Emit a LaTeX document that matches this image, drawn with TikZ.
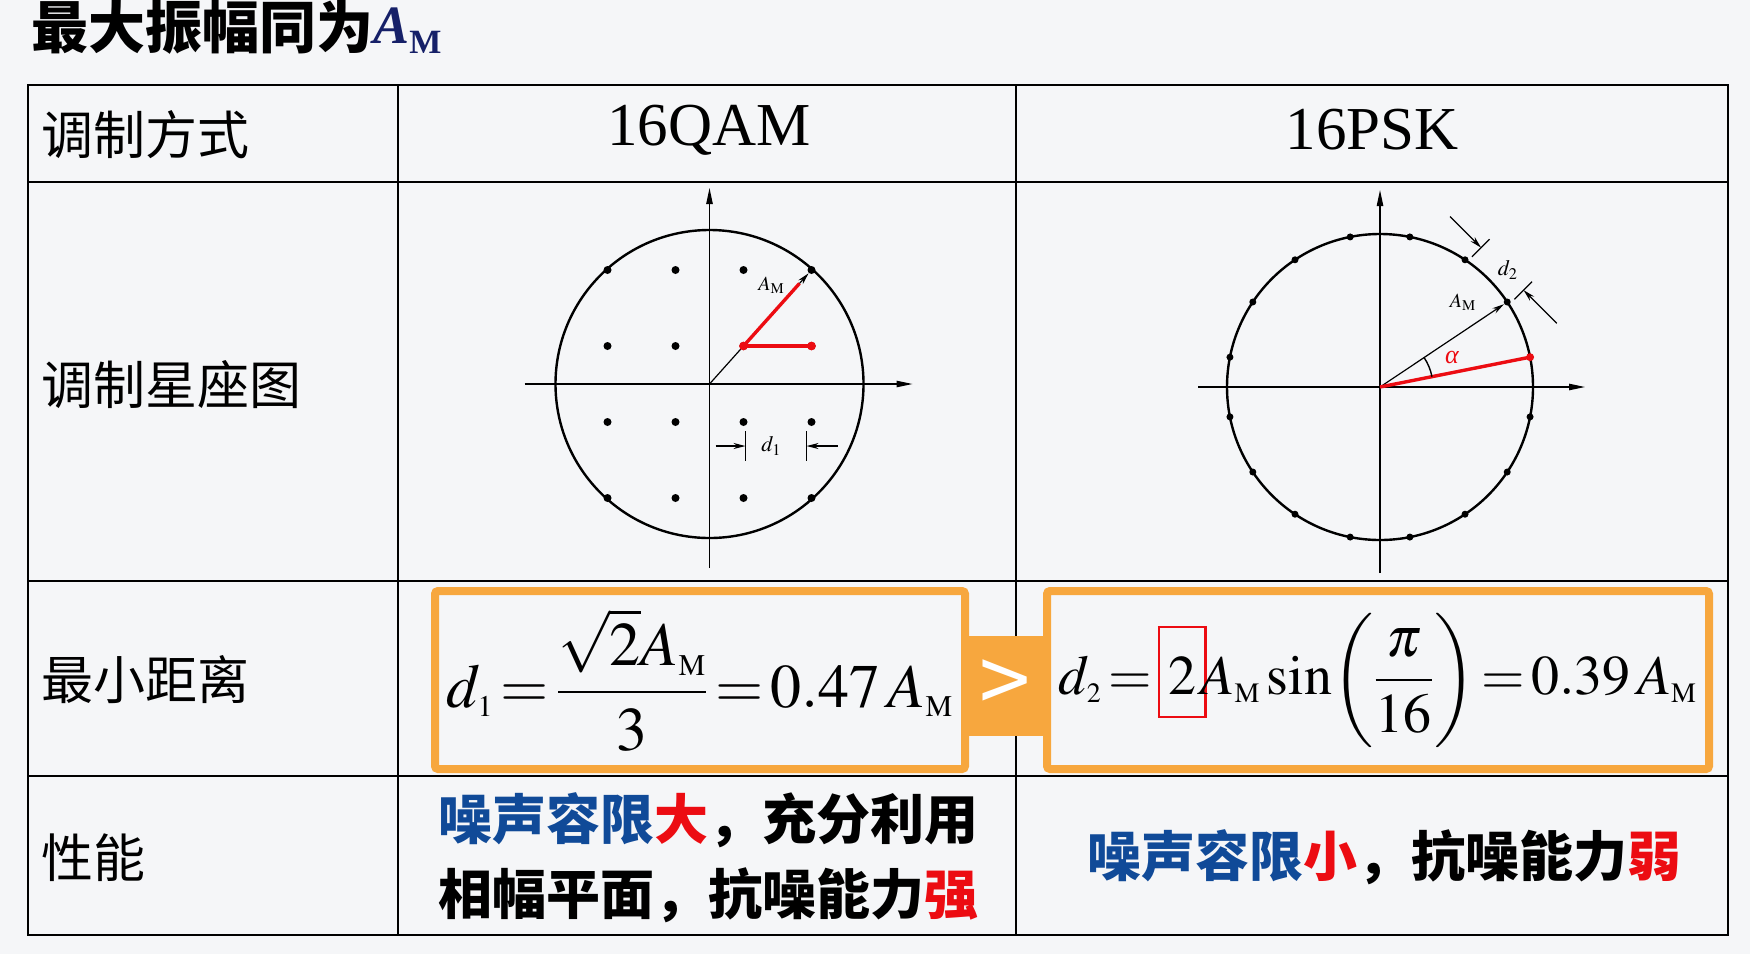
\documentclass[tikz,border=0pt]{standalone}
\usepackage{amsmath}
\usepackage{mathptmx}
\usepackage[no-math]{fontspec}
\newfontfamily\cjk{Noto Sans CJK SC}
\newfontfamily\tms{Liberation Serif}
\usetikzlibrary{arrows.meta}
\DeclareMathSizes{31}{31}{15}{12}
\DeclareMathSizes{28}{28}{14}{11}

\definecolor{bgcol}{RGB}{245,246,248}
\definecolor{cblue}{RGB}{16,74,152}
\definecolor{cred}{RGB}{236,12,18}
\definecolor{corange}{RGB}{247,167,62}
\definecolor{cnavy}{RGB}{22,32,104}

\tikzset{tline/.style={line width=1.1pt},
rowlbl/.style={anchor=west, inner sep=0pt, font=\cjk\fontsize{26}{30}\selectfont},
headlbl/.style={inner sep=0pt, font=\tms\fontsize{30.5}{34}\selectfont},
perf/.style={inner sep=0pt, font=\cjk\bfseries\fontsize{27}{32}\selectfont},
cpoint/.style={circle, fill=black, inner sep=0pt, minimum size=#1},
%default dot is 4pt
cpoint/.default={4pt},
axarrow/.style={line width=0.6pt, -{Triangle[length=8pt,width=3.2pt]}},
rim/.style={line width=1.2pt},
redline/.style={cred, line width=1.7pt},
dimarrow/.style={line width=0.6pt, -{Stealth[length=6pt,width=3pt]}},
smalltxt/.style={inner sep=0pt, font=\fontsize{10}{12}\selectfont},
obox/.style={draw=corange, line width=4pt, rounded corners=1.5pt, inner sep=0pt}}

\newcommand\sbm{_{\mathrm{M}}}
\newcommand\tight{\thickmuskip=2mu\medmuskip=2mu}
\newcommand\redbox[1]{{\color{cred}\setlength\fboxrule{1.2pt}\setlength\fboxsep{0pt}\fbox{\color{black}\rule[-11pt]{0pt}{44pt}\hspace{4pt}$#1$\hspace{4pt}}}}

\begin{document}
\begin{tikzpicture}[x=0.5pt,y=-0.5pt]
\useasboundingbox (0,0) rectangle (1750,954);
\fill[bgcol] (0,0) rectangle (1750,954);

% title
\node[anchor=west, inner sep=0pt, font=\cjk\bfseries\fontsize{28.5}{32}\selectfont] (title) at (31,27) {最大振幅同为};
\node[anchor=base west, inner sep=0pt, text=cnavy, font=\tms\bfseries\itshape\fontsize{27}{30}\selectfont] (titleam) at (373,43) {A\raisebox{-5pt}{\upshape\fontsize{17}{20}\selectfont M}};

% table
\draw[tline] (28,85) rectangle (1728,935);
\foreach \y in {182,581,776}
     \draw[tline] (28,\y) -- (1728,\y);
\foreach \x in {398,1016}
     \draw[tline] (\x,85) -- (\x,935);

%labels
\node[rowlbl] (mode) at (41,135) {调制方式};
\node[rowlbl] (constel) at (41,385) {调制星座图};
\node[rowlbl] (mindist) at (41,680) {最小距离};
\node[rowlbl] (perform) at (41,858) {性能};
\node[headlbl] (qamhead) at (709,130) {16QAM};
\node[headlbl] (pskhead) at (1372,130) {16PSK};

% 16QAM
\begin{scope}[shift={(709.5,384)}, yscale=-1]
\draw[axarrow] (-185,0) -- (203,0);
\draw[axarrow] (0,-184) -- (0,196);
\draw[rim] (0,0) circle (154);
\foreach \i/\a in {-3/a,-1/b,1/c,3/d}
  \foreach \j/\b in {-3/a,-1/b,1/c,3/d}
     \node[cpoint] (q\a\b) at (34*\i,38*\j) {};
\draw[line width=0.6pt] (0,0) -- (qcc);
\draw[dimarrow] (qcc.center) -- (qdd);
\draw[redline, shorten >=9pt] (qcc.center) -- (qdd.center);
\draw[redline] (qcc.center) -- (qdc.center);
\fill[cred] (qcc) circle (2.2pt);
\fill[cred] (qdc) circle (2.2pt);
\node[smalltxt] (qamam) at (62,99) {$A\sbm$};
% d1
\coordinate (ta) at (36,-62);
\coordinate (tb) at (97,-62);
\draw[line width=0.6pt] (36,-47) -- (36,-77);
\draw[line width=0.6pt] (97,-47) -- (97,-77);
\draw[dimarrow] (6,-62) -- (ta);
\draw[dimarrow] (128,-62) -- (tb);
\node[smalltxt, font=\fontsize{11}{13}\selectfont] (qamd) at (62,-62) {$d_1$};
\end{scope}

% 16PSK
\begin{scope}[shift={(1380,387)}, yscale=-1]
\draw[axarrow] (-182,0) -- (205,0);
\draw[axarrow] (0,-186) -- (0,197);
\draw[rim] (0,0) circle (153);
\foreach \k in {0,...,15}
     \node[cpoint=3.5pt] (p\k) at (11.25+22.5*\k:153) {};
\draw[dimarrow] (0,0) -- (p1);
\draw[redline] (0,0) -- (p0.center);
\fill[cred] (p0) circle (2pt);
\draw[line width=0.7pt] (11.25:53) arc[start angle=11.25, end angle=33.75, radius=53];
\node[inner sep=0pt, text=cred, font=\tms\itshape\fontsize{13}{15}\selectfont] (pskalpha) at (72,30) {α};
\node[smalltxt] (pskam) at (83,85) {$A\sbm$};
\node[smalltxt, font=\fontsize{11}{13}\selectfont] (pskd) at (128,117) {$d_2$};
% d2
\begin{scope}[rotate=-45]
\coordinate (tc) at (170,27);
\coordinate (td) at (170,-33);
\draw[line width=0.6pt] (157,27) -- (182,27);
\draw[line width=0.6pt] (157,-33) -- (182,-33);
\draw[dimarrow] (170,71) -- (tc);
\draw[dimarrow] (170,-80) -- (td);
\end{scope}
\end{scope}

% minimum distance
\node[obox, minimum width=265pt, minimum height=89pt, font=\fontsize{31}{36}\selectfont] (qambox) at (700,680)
     {$\tight\displaystyle d_1=\frac{\sqrt{2}A\sbm}{3}=0.47\,A\sbm$};
\node[obox, minimum width=331pt, minimum height=89pt, font=\fontsize{28}{33}\selectfont] (pskbox) at (1378,680)
     {$\tight\displaystyle d_2=\redbox{2}\!A\sbm\sin\!\left(\vrule height 42pt depth 28pt width 0pt\frac{\pi}{16}\right)=0.39\,A\sbm$};
\fill[corange] ([yshift=22pt]qambox.east) rectangle ([yshift=-28pt]pskbox.west);
\node[inner sep=0pt, text=white, font=\cjk\fontsize{46}{50}\selectfont] (gt) at (1005,687) {>};

% performance
\node[perf, anchor=west] (qamperf) at (438,820) {\textcolor{cblue}{噪声容限}\textcolor{cred}{大}，充分利用};
\node[perf, anchor=west] (qamplane) at (438,895) {相幅平面，抗噪能力\textcolor{cred}{强}};
\node[perf] (pskperf) at (1384,857) {\textcolor{cblue}{噪声容限}\textcolor{cred}{小}，抗噪能力\textcolor{cred}{弱}};

\end{tikzpicture}
\end{document}
